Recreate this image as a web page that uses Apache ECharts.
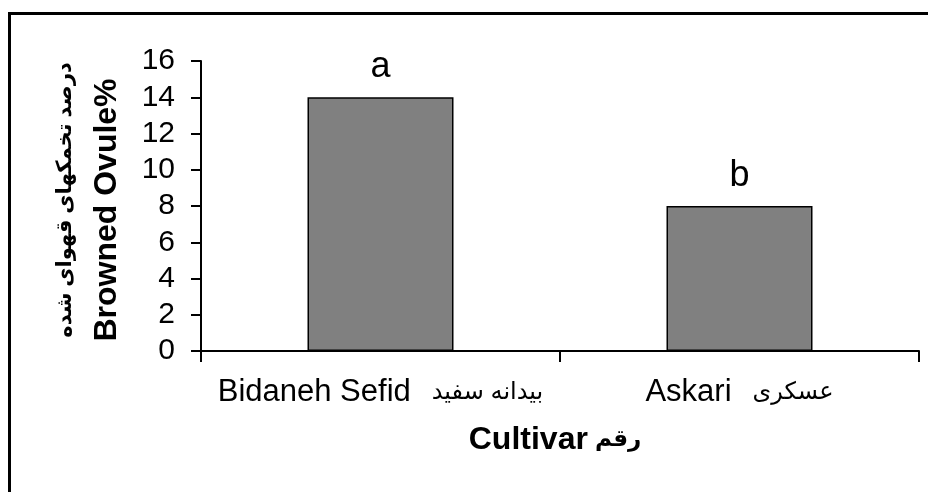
<!DOCTYPE html>
<html>
<head>
<meta charset="utf-8">
<script src="https://cdn.jsdelivr.net/npm/echarts@6/dist/echarts.min.js"></script>
<style>
  html, body { margin: 0; padding: 0; background: #fff; }
  #main { width: 928px; height: 492px; }
</style>
</head>
<body>
<div id="main"></div>
<script>
var cultivarsEn = ['Bidaneh Sefid', 'Askari'];
var cultivarsFa = ['بیدانه سفید', 'عسکری'];
var browned = [14, 8];
var letters = ['a', 'b'];
var yTicks = { min: 0, max: 16, step: 2 };

var FONT = '"Liberation Sans", Arial, "DejaVu Sans", sans-serif';

var chartDom = document.getElementById('main');
var myChart = echarts.init(chartDom);
var option;

option = {
    animation: false,
    backgroundColor: '#fff',
    grid: {
        left: 201,
        right: 9,
        top: 61,
        bottom: 141
    },
    xAxis: {
        type: 'category',
        data: cultivarsEn,
        boundaryGap: true,
        axisLine: { lineStyle: { color: '#000', width: 2 } },
        axisTick: { show: true, length: 11, lineStyle: { color: '#000', width: 2 } },
        axisLabel: {
            interval: 0,
            margin: 26,
            formatter: function (val, i) {
                return '{en|' + val + '}{gap|}{fa|' + cultivarsFa[i] + '}';
            },
            rich: {
                en: { color: '#000', fontFamily: FONT, fontSize: 31 },
                gap: { width: 21 },
                fa: { color: '#000', fontFamily: FONT, fontSize: 24 }
            }
        },
        splitLine: { show: false }
    },
    yAxis: {
        type: 'value',
        min: yTicks.min,
        max: yTicks.max,
        interval: yTicks.step,
        axisLine: { show: true, lineStyle: { color: '#000', width: 2 } },
        axisTick: { show: true, length: 10, lineStyle: { color: '#000', width: 2 } },
        axisLabel: {
            color: '#000',
            fontFamily: FONT,
            fontSize: 30,
            margin: 26
        },
        splitLine: { show: false }
    },
    graphic: [
        {
            // outer frame, runs off the right and bottom edges
            type: 'rect',
            shape: { x: 9.5, y: 13.5, width: 940, height: 500 },
            style: { fill: 'none', stroke: '#000', lineWidth: 3 },
            z: 0
        },
        {
            type: 'text',
            x: 65,
            y: 200,
            rotation: Math.PI / 2,
            style: {
                text: 'درصد تخمکهای قهوای شده',
                font: 'bold 21px ' + FONT,
                fill: '#000',
                align: 'center',
                verticalAlign: 'middle'
            }
        },
        {
            type: 'text',
            x: 107,
            y: 210,
            rotation: Math.PI / 2,
            style: {
                text: 'Browned Ovule%',
                font: 'bold 32px ' + FONT,
                fill: '#000',
                align: 'center',
                verticalAlign: 'middle'
            }
        },
        {
            type: 'text',
            x: 555,
            y: 440,
            style: {
                text: '{en|Cultivar}{gap|}{fa|رقم}',
                rich: {
                    en: { fontFamily: FONT, fontWeight: 'bold', fontSize: 32, fill: '#000' },
                    gap: { width: 7 },
                    fa: { fontFamily: FONT, fontWeight: 'bold', fontSize: 23, fill: '#000' }
                },
                align: 'center',
                verticalAlign: 'middle'
            }
        }
    ],
    series: [
        {
            type: 'bar',
            data: browned,
            barWidth: 146,
            itemStyle: {
                color: '#808080',
                borderColor: '#000',
                borderWidth: 1.5
            },
            label: {
                show: true,
                position: 'top',
                distance: 12,
                color: '#000',
                fontFamily: FONT,
                fontSize: 36,
                formatter: function (p) {
                    return letters[p.dataIndex];
                }
            }
        }
    ]
};

option && myChart.setOption(option);
</script>
</body>
</html>
